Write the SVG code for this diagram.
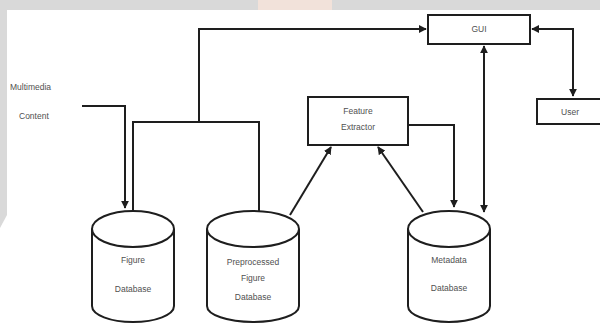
<svg xmlns="http://www.w3.org/2000/svg" width="600" height="323" viewBox="0 0 600 323">
<style>
.ln{fill:none;stroke:#1e1e1e;stroke-width:2}
.box{fill:#fff;stroke:#1e1e1e;stroke-width:2}
.t{font-family:"Liberation Sans",Arial,sans-serif;font-size:8.5px;fill:#505050;text-anchor:middle}
.tl{font-family:"Liberation Sans",Arial,sans-serif;font-size:8.5px;fill:#505050}
</style>
<defs>
<marker id="ah" viewBox="0 0 10 10" refX="9" refY="5" markerWidth="4" markerHeight="4" orient="auto-start-reverse" markerUnits="strokeWidth">
<path d="M0,0 L10,5 L0,10 z" fill="#1e1e1e"/>
</marker>
</defs>
<rect x="0" y="0" width="600" height="323" fill="#ffffff"/>
<rect x="0" y="0" width="600" height="10" fill="#d9d9d9"/>
<rect x="258" y="0" width="74" height="10" fill="#f2e2da"/>
<path d="M0,0 H7 V215 L0,228 z" fill="#d9d9d9"/>

<g id="connectors">
<path class="ln" d="M199,122 V29 H426" marker-end="url(#ah)"/>
<path class="ln" d="M133,210 V122 H259 V211"/>
<path class="ln" d="M82,106 H125 V208" marker-end="url(#ah)"/>
<path class="ln" d="M408,125 H454 V207" marker-end="url(#ah)"/>
<path class="ln" d="M484,46 V212" marker-start="url(#ah)" marker-end="url(#ah)"/>
<path class="ln" d="M290,215 L331,147" marker-end="url(#ah)"/>
<path class="ln" d="M423,212 L378,147" marker-end="url(#ah)"/>
<path class="ln" d="M532,29 H573 V96" marker-start="url(#ah)" marker-end="url(#ah)"/>
</g>

<g id="gui">
<rect class="box" x="428" y="15" width="102" height="29"/>
<text class="t" x="479" y="32">GUI</text>
</g>
<g id="user">
<rect class="box" x="537" y="99" width="70" height="25"/>
<text class="t" x="570" y="115">User</text>
</g>
<g id="feature-extractor">
<rect class="box" x="308" y="97" width="100" height="48"/>
<text class="t" x="358" y="114">Feature</text>
<text class="t" x="358" y="130">Extractor</text>
</g>
<g id="multimedia-content">
<text class="tl" x="10" y="90">Multimedia</text>
<text class="tl" x="19" y="119">Content</text>
</g>
<g id="figure-db">
<path class="box" d="M92,229 V306 A41,16 0 0 0 174,306 V229"/>
<ellipse class="box" cx="133" cy="229" rx="41" ry="18"/>
<text class="t" x="133" y="263">Figure</text>
<text class="t" x="133" y="292">Database</text>
</g>
<g id="preprocessed-db">
<path class="box" d="M207,229 V306 A46,16 0 0 0 299,306 V229"/>
<ellipse class="box" cx="253" cy="229" rx="46" ry="18"/>
<text class="t" x="253" y="265">Preprocessed</text>
<text class="t" x="253" y="281">Figure</text>
<text class="t" x="253" y="300">Database</text>
</g>
<g id="metadata-db">
<path class="box" d="M408,229 V306 A41,16 0 0 0 490,306 V229"/>
<ellipse class="box" cx="449" cy="229" rx="41" ry="18"/>
<text class="t" x="449" y="263">Metadata</text>
<text class="t" x="449" y="291">Database</text>
</g>
</svg>
